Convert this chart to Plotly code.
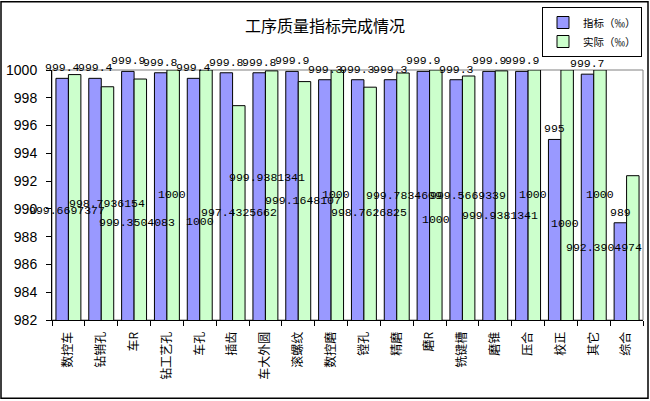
import plotly.graph_objects as go

# 工序质量指标完成情况 -- 指标 vs 实际 (‰)
categories = ["数控车", "钻销孔", "车R", "钻工艺孔", "车孔", "插齿", "车大外圆", "滚螺纹", "数控磨",
              "镗孔", "精磨", "磨R", "铣键槽", "磨锥", "压合", "校正", "其它", "综合"]
target = [999.4, 999.4, 999.9, 999.8, 999.4, 999.8, 999.8, 999.9, 999.3,
          999.3, 999.3, 999.9, 999.3, 999.9, 999.9, 995, 999.7, 989]
actual = [999.6697377, 998.7936154, 999.3504083, 1000, 1000, 997.4325662, 999.9381341, 999.1648107, 1000,
          998.7626825, 999.7834609, 1000, 999.5669339, 999.9381341, 1000, 1000, 1000, 992.3904974]

# where the (hand placed) labels of the actual series sit, in axis units / px shift
actual_label_y = [989.91, 990.39, 989.02, 991.03, 989.07, 989.74, 992.28, 990.57, 991.06,
                  989.76, 990.93, 989.26, 990.93, 989.55, 991.03, 988.95, 991.03, 987.23]
actual_label_dx = [-1, 6, 3, 5, 0, 6, 2, 5, 5, 5, 7, 6, 6, 5, 5, 4, 6, -23]


def fmt(v):
    return ("%.7f" % v).rstrip("0").rstrip(".")


fig = go.Figure()
fig.add_trace(go.Bar(x=categories, y=target, name="指标（‰）",
                     marker=dict(color="#9999FF", line=dict(color="black", width=1))))
fig.add_trace(go.Bar(x=categories, y=actual, name="实际（‰）",
                     marker=dict(color="#CCFFCC", line=dict(color="black", width=1))))

label_font = dict(family="Liberation Mono", size=11.5, color="black")
annotations = []
for c, v in zip(categories, target):
    annotations.append(dict(x=c, y=v, text=fmt(v), showarrow=False, yanchor="bottom",
                            xshift=-6, yshift=2, font=label_font))
for c, v, ly, dx in zip(categories, actual, actual_label_y, actual_label_dx):
    annotations.append(dict(x=c, y=ly, text=fmt(v), showarrow=False, yanchor="middle",
                            xshift=dx, font=label_font))

fig.update_layout(
    width=650, height=401,
    margin=dict(l=52, r=7, t=70, b=81, autoexpand=False),
    paper_bgcolor="white", plot_bgcolor="white",
    barmode="group", bargap=0.24, bargroupgap=0,
    title=dict(text="工序质量指标完成情况", x=0.5, xref="container", xanchor="center",
               y=1 - 26 / 401, yref="container", yanchor="middle",
               font=dict(family="Noto Sans CJK SC", size=16, color="black")),
    legend=dict(x=642 / 650, y=1 - 7 / 401, xref="container", yref="container",
                xanchor="right", yanchor="top", bordercolor="black", borderwidth=1,
                bgcolor="white", itemwidth=30, tracegroupgap=0,
                font=dict(family="Noto Sans CJK SC", size=10.5, color="black")),
    annotations=annotations,
    shapes=[
        # plot area frame
        dict(type="rect", xref="paper", yref="paper", x0=0, x1=1, y0=0, y1=1,
             line=dict(color="#808080", width=1), layer="below"),
        # chart border
        dict(type="rect", xref="paper", yref="paper", x0=-51 / 591, x1=596 / 591,
             y0=-78.5 / 250.5, y1=319 / 250.5, line=dict(color="black", width=1.5)),
    ],
)
fig.update_yaxes(range=[982, 1000], dtick=2, showgrid=False, zeroline=False,
                 showline=True, linecolor="black", linewidth=1,
                 ticks="outside", ticklen=5, tickcolor="black", ticklabelstandoff=6,
                 tickfont=dict(family="Liberation Sans", size=14, color="black"))
fig.update_xaxes(range=[-0.5, len(categories) - 0.5], autorange=False,
                 showgrid=False, showline=True, linecolor="black", linewidth=1,
                 ticks="outside", tickson="boundaries", ticklen=5, tickcolor="black",
                 tickangle=-90, ticklabelstandoff=6,
                 tickfont=dict(family="Noto Sans CJK SC", size=12, color="black"))

# page margin would push the chart off its place in the window
fig.write_html("out.html", config={"displayModeBar": False},
               post_script="document.body.style.margin = '0px';")
